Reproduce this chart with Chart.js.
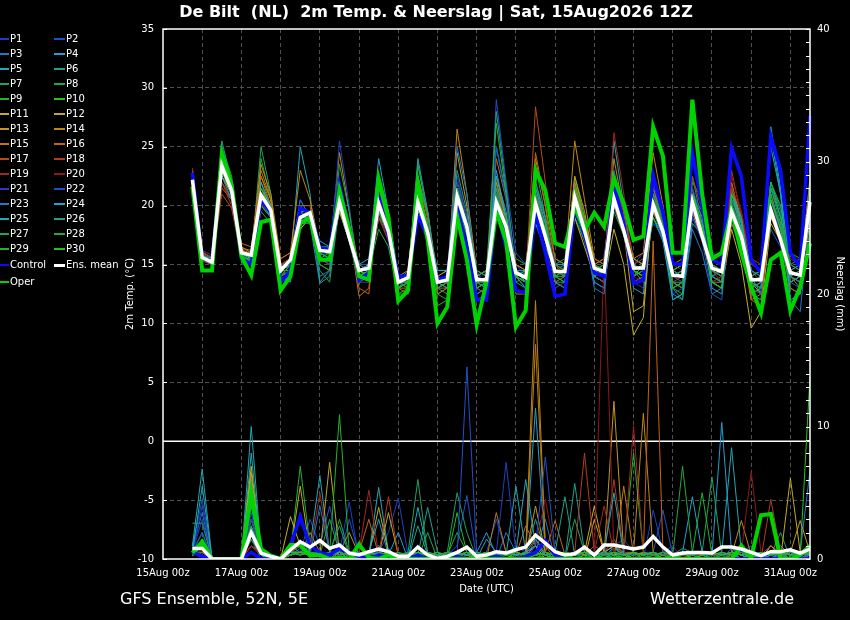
<!DOCTYPE html>
<html><head><meta charset="utf-8">
<script src="https://cdn.jsdelivr.net/npm/chart.js@4.4.1/dist/chart.umd.min.js"></script>
<style>
html,body{margin:0;padding:0;background:#000;}
#wrap{position:relative;width:850px;height:620px;background:#000;overflow:hidden;font-family:"DejaVu Sans",sans-serif;color:#fff;}
#c{position:absolute;left:0;top:0;}
.t{position:absolute;white-space:pre;color:#fff;}
#title{left:0;width:872px;top:2px;text-align:center;font-weight:bold;font-size:16px;line-height:20px;}
#foot1{left:120px;top:589px;font-size:16px;line-height:20px;}
#foot2{left:650px;top:589px;font-size:16px;line-height:20px;}
.lg{position:absolute;font-size:10px;line-height:12px;white-space:pre;color:#fff;}
.ls{position:absolute;}
</style>
</head><body>
<div id="wrap">
<canvas id="c" width="850" height="620"></canvas>
<div class="t" id="title">De Bilt  (NL)  2m Temp. &amp; Neerslag | Sat, 15Aug2026 12Z</div>
<div class="t" id="foot1">GFS Ensemble, 52N, 5E</div>
<div class="t" id="foot2">Wetterzentrale.de</div>
<div id="legend"></div>
</div>
<script>
// ---- categories: 6-hourly steps from 15Aug 00z to 31Aug 12z ----
const days = [15,16,17,18,19,20,21,22,23,24,25,26,27,28,29,30,31];
const hours = ['00','06','12','18'];
const timeLabels = [];
days.forEach(d => hours.forEach(h => timeLabels.push(d + 'Aug ' + h + 'z')));
timeLabels.length = 67;
const leadPad = [null, null, null]; // model output starts 15Aug 18z

// ---- series names & colours ----
const memberNames = ['P1','P2','P3','P4','P5','P6','P7','P8','P9','P10','P11','P12','P13','P14','P15','P16','P17','P18','P19','P20','P21','P22','P23','P24','P25','P26','P27','P28','P29','P30'];
const memberColors = ['#2040c0','#2050c8','#2078c8','#20a0d0','#20a8b4','#20a088','#20a064','#20a844','#20b430','#20c420',
  '#c0b020','#c0a820','#c09820','#c08810','#c07810','#c06418','#b84c18','#b03c20','#a02820','#8c1818',
  '#2040c0','#2050c8','#2078c8','#20a0d0','#20a8b4','#20a088','#20a064','#20a844','#20b430','#20c420'];

// ---- 2m temperature (°C), 15Aug 18z .. 31Aug 12z ----
const tempMean = [22.2, 15.6,15.2,23.4,21.3, 16.0,15.8,20.9,19.6, 14.5,15.4,19.0,19.4, 16.2,16.1,20.3,17.3, 14.5,14.7,20.2,17.8, 13.5,13.9,20.3,17.7, 13.5,13.7,20.8,18.2, 13.7,13.7,20.3,18.2, 14.3,13.9,20.2,17.4, 14.4,14.4,20.7,17.9, 14.7,14.4,20.6,17.9, 14.7,14.7,20.1,17.8, 14.1,14.0,20.3,17.4, 14.7,14.4,19.5,17.4, 13.7,13.7,19.6,17.1, 14.3,14.1,20.3];
const tempControl = [22.8, 15.5,15.3,24.0,21.5, 15.5,15.0,20.5,19.4, 13.5,14.5,19.8,19.4, 16.4,16.2,21.8,18.0, 13.7,14.3,20.8,17.5, 14.0,14.0,19.1,17.4, 13.7,14.0,19.9,16.5, 12.0,12.0,19.8,16.5, 12.8,12.6,19.4,16.0, 12.3,12.5,20.0,17.5, 14.3,14.0,21.8,18.5, 13.4,13.7,22.6,19.4, 15.1,15.0,24.5,19.9, 15.4,15.0,24.9,22.5, 15.4,14.3,25.9,23.0, 16.0,14.8,27.6];
const tempOper = [21.6, 14.5,14.5,24.4,21.8, 15.7,14.1,18.6,18.8, 12.8,14.0,18.5,19.0, 15.4,15.4,21.3,18.0, 14.0,13.7,22.3,19.0, 11.9,12.8,21.9,17.1, 10.0,11.4,19.1,15.4, 9.9,13.5,19.5,17.0, 9.7,11.1,23.0,21.3, 16.8,16.5,19.9,17.9, 19.4,18.2,22.3,20.2, 17.1,17.4,26.7,24.2, 16.0,16.0,29.0,21.0, 15.5,16.0,19.6,16.0, 13.1,10.9,15.4,16.0, 11.1,13.1,16.8];
const tempMembers = [
 [22.5, 16.2,15.8,23.8,21.0, 16.5,16.0,21.5,19.8, 14.8,15.6,20.5,19.0, 16.0,15.5,21.0,17.5, 14.0,14.5,19.5,17.0, 13.0,13.5,21.0,18.0, 14.0,14.5,22.5,19.0, 14.5,13.0,21.0,18.5, 15.0,14.0,19.0,16.5, 13.5,14.0,21.5,18.0, 15.5,15.0,22.0,19.0, 14.0,14.5,20.0,17.0, 13.5,13.0,19.0,17.5, 15.0,14.5,18.5,16.0, 12.5,12.0,21.0,18.0, 15.0,14.5,19.0],
 [22.0, 15.8,15.4,23.0,21.2, 15.8,15.5,20.0,19.2, 14.0,15.0,19.0,19.5, 16.5,16.0,22.0,18.0, 15.0,15.0,21.0,18.5, 14.0,13.5,20.5,18.0, 12.5,13.0,19.5,17.5, 12.0,12.5,29.0,22.0, 16.0,15.0,18.5,16.0, 13.0,13.5,19.5,17.0, 13.5,13.0,20.0,18.5, 15.0,16.0,18.5,17.5, 14.5,15.0,21.5,18.0, 16.0,15.5,20.5,18.5, 14.0,13.5,18.0,16.5, 13.5,14.0,21.0],
 [21.8, 15.5,15.0,23.5,21.5, 15.5,15.2,21.0,20.0, 14.5,15.0,18.5,19.5, 15.8,16.0,19.5,17.0, 14.5,15.0,22.0,18.5, 13.5,14.5,19.0,17.0, 13.0,13.5,21.5,18.5, 13.0,12.5,20.0,18.0, 14.0,13.0,21.0,18.5, 15.0,14.5,20.0,17.0, 15.0,15.5,23.0,19.5, 14.5,14.0,19.0,17.0, 12.5,12.0,18.0,16.0, 12.5,13.0,19.5,17.5, 13.0,12.5,20.5,18.5, 12.0,11.0,19.5],
 [22.3, 15.7,15.5,23.0,20.8, 16.2,15.5,20.5,19.0, 14.2,15.5,19.5,18.5, 16.5,16.5,20.0,17.5, 14.5,14.5,19.5,17.0, 13.0,13.5,21.0,17.5, 13.5,14.0,20.0,18.0, 12.5,13.0,21.5,19.0, 14.5,14.5,21.0,17.5, 15.0,15.0,19.5,17.5, 13.5,13.0,20.5,18.0, 15.5,15.0,21.5,18.5, 14.0,14.5,19.5,17.0, 14.5,14.0,20.0,18.0, 12.5,13.0,26.0,21.0, 15.0,15.5,19.0],
 [22.0, 15.4,15.0,24.5,21.0, 15.6,15.4,20.0,19.5, 14.5,15.0,25.0,21.0, 13.5,14.5,20.0,17.5, 14.0,14.5,20.5,18.0, 13.5,14.0,24.0,19.5, 14.0,13.5,22.0,19.0, 13.5,13.0,25.0,21.0, 14.0,13.0,18.5,16.5, 14.5,15.0,22.0,19.0, 14.0,14.5,25.5,20.0, 14.5,13.5,19.0,17.0, 12.0,12.5,18.5,17.5, 14.0,14.5,21.5,19.0, 14.0,12.5,26.7,21.5, 14.0,13.5,22.5],
 [22.0, 15.5,15.5,25.5,22.0, 15.5,15.0,22.0,19.5, 14.0,14.5,19.0,19.5, 15.5,15.5,19.5,17.0, 14.0,14.5,19.0,17.5, 13.0,14.0,23.5,19.0, 13.5,13.0,21.5,18.5, 12.5,13.0,28.0,21.5, 14.5,13.5,21.0,17.0, 15.0,15.5,21.5,18.0, 14.0,14.5,20.0,17.5, 14.5,14.0,21.0,18.5, 13.5,13.5,20.5,18.0, 13.5,14.0,19.0,17.0, 12.5,12.0,20.0,17.5, 13.5,14.0,20.0],
 [22.1, 15.6,15.2,22.5,21.0, 16.0,15.5,25.0,21.0, 14.5,15.0,19.0,18.5, 14.5,13.5,20.0,17.0, 14.5,14.0,22.0,18.0, 13.5,14.0,23.5,19.5, 13.5,14.0,21.0,18.0, 14.0,13.5,22.0,18.5, 14.5,14.0,23.5,19.0, 13.5,13.5,21.0,19.0, 15.0,14.5,19.5,17.5, 15.5,15.0,20.5,18.0, 13.0,12.0,22.5,18.5, 14.0,13.5,20.0,18.5, 14.0,14.5,21.5,20.0, 14.5,14.0,20.5],
 [21.9, 15.8,15.3,25.0,22.5, 15.7,15.2,19.5,18.5, 14.0,14.5,18.0,19.0, 16.0,16.5,21.5,18.5, 14.5,15.0,21.5,19.0, 14.0,13.5,19.5,17.5, 12.5,12.0,20.0,18.0, 13.0,13.5,20.5,18.5, 15.5,15.0,21.5,19.0, 15.5,15.0,22.0,18.5, 14.5,15.0,22.0,19.5, 14.0,14.5,19.5,17.5, 14.5,14.0,21.0,19.5, 15.0,14.5,20.5,19.0, 15.5,15.0,22.0,20.0, 16.0,15.5,21.0],
 [22.4, 15.5,15.0,23.0,21.5, 15.2,14.5,24.0,20.5, 13.5,14.0,20.0,19.0, 16.0,15.5,20.5,17.5, 15.0,14.5,18.0,16.5, 12.5,13.0,19.5,17.0, 13.0,13.5,20.0,18.5, 14.0,14.5,27.0,21.0, 14.5,13.5,20.0,17.5, 14.5,14.0,19.0,17.0, 14.0,13.5,20.5,18.5, 15.0,14.5,20.0,18.0, 13.0,12.5,22.0,20.5, 15.5,15.0,21.5,18.5, 14.0,14.5,20.0,17.0, 13.0,12.5,18.0],
 [22.0, 15.6,15.2,24.0,21.0, 15.9,15.5,20.5,19.5, 14.0,15.0,19.5,19.0, 15.5,15.0,20.0,17.0, 13.5,14.0,19.0,17.5, 13.5,13.0,21.5,18.5, 14.5,14.5,21.0,18.0, 13.5,13.0,21.0,18.0, 14.0,14.5,20.0,17.5, 14.0,14.0,22.5,19.0, 15.0,14.0,21.0,18.0, 14.0,15.0,19.0,17.5, 13.0,13.5,20.5,18.0, 15.5,15.0,19.5,17.0, 12.5,13.0,19.0,17.5, 13.5,14.0,21.0],
 [22.2, 15.8,15.4,22.0,20.5, 16.0,15.5,21.5,20.0, 15.0,15.5,18.0,19.0, 16.0,15.5,19.5,17.0, 14.5,14.0,20.5,17.5, 13.5,13.5,19.0,17.5, 14.0,14.5,20.0,18.0, 14.5,14.0,19.5,17.5, 14.0,13.5,20.5,18.0, 13.5,13.0,19.0,16.5, 14.0,13.5,18.0,15.0, 9.0,10.5,21.0,18.5, 14.5,14.0,20.5,17.5, 13.5,13.0,18.0,15.0, 9.6,11.0,18.5,17.0, 14.0,13.5,17.0],
 [21.8, 16.0,15.6,22.5,21.0, 16.2,15.8,21.0,19.0, 15.0,15.5,19.5,19.5, 16.5,16.0,20.5,17.5, 14.5,15.0,20.0,17.5, 13.5,14.0,20.5,18.0, 13.5,14.0,21.0,18.5, 14.0,14.5,20.5,19.0, 15.0,14.5,20.0,17.0, 15.0,14.5,21.5,18.5, 15.5,15.0,20.5,18.0, 11.0,11.5,20.0,17.5, 14.5,15.0,19.5,17.0, 14.0,13.5,20.0,17.5, 13.5,12.5,19.0,17.5, 14.5,14.0,19.5],
 [22.6, 15.5,15.2,22.8,21.5, 16.3,15.9,22.5,20.5, 14.7,15.5,20.0,19.0, 16.2,16.0,21.5,18.0, 14.0,14.5,21.5,18.5, 14.0,14.0,20.0,17.5, 13.0,13.5,24.5,20.0, 14.0,13.5,20.5,18.0, 14.5,14.0,21.0,18.5, 14.5,14.0,22.5,19.5, 15.0,15.5,21.5,18.5, 15.5,15.0,19.5,17.5, 14.0,14.5,20.0,17.5, 14.5,14.0,19.0,17.0, 13.0,13.5,19.5,17.5, 14.5,14.0,18.5],
 [23.0, 15.6,15.3,23.2,21.8, 16.5,16.0,23.5,21.0, 15.5,16.0,23.0,20.5, 16.5,16.0,24.5,19.5, 14.5,15.0,20.0,17.5, 14.0,14.5,22.5,19.0, 14.0,13.5,26.5,21.0, 14.5,14.0,22.0,19.0, 15.0,14.5,24.0,20.0, 15.5,15.0,25.5,20.5, 15.5,15.0,24.0,19.5, 15.5,16.0,24.5,20.0, 15.0,15.5,21.5,18.0, 15.5,15.0,22.0,18.5, 13.5,14.0,21.0,18.0, 14.5,15.0,22.0],
 [22.0, 15.7,15.5,22.5,21.2, 16.4,16.2,23.0,20.5, 15.0,15.5,19.5,19.5, 15.5,15.0,21.0,18.0, 12.3,13.0,21.5,18.0, 13.0,13.0,22.5,19.0, 12.5,13.0,20.5,18.5, 13.0,13.5,22.5,19.0, 12.5,12.5,21.0,18.5, 14.5,14.5,22.0,18.5, 14.0,13.5,20.0,17.5, 13.5,14.0,21.0,18.0, 13.0,13.5,19.5,17.5, 13.5,13.0,18.5,16.5, 12.0,12.5,20.5,18.5, 14.0,13.0,21.5],
 [22.4, 16.0,15.5,21.5,20.5, 16.8,16.5,22.5,20.0, 15.5,16.0,20.0,20.0, 15.0,14.5,20.5,17.5, 13.0,12.5,21.0,18.5, 13.0,12.5,20.5,18.0, 13.0,13.0,20.5,18.0, 14.0,14.5,24.0,20.5, 14.0,13.5,24.5,20.0, 13.5,14.0,20.5,18.5, 15.0,14.5,20.5,18.5, 14.5,14.0,21.5,19.0, 13.5,13.0,21.0,18.0, 13.5,13.5,21.5,18.5, 12.0,11.5,20.0,17.5, 13.0,12.5,21.0],
 [22.3, 15.4,15.0,21.0,19.8, 15.5,15.0,20.0,19.0, 14.5,14.0,19.0,19.0, 16.0,15.5,21.0,18.0, 14.0,14.5,21.0,18.0, 13.5,13.5,22.0,19.0, 13.0,13.5,20.5,18.0, 13.5,13.0,19.0,17.5, 14.0,13.5,28.4,22.0, 15.0,14.0,20.5,17.0, 15.5,15.0,21.0,18.0, 14.5,14.0,19.5,17.5, 13.5,13.0,20.0,18.5, 14.0,14.5,20.5,18.0, 13.5,13.0,19.0,17.0, 14.0,14.5,20.0],
 [21.6, 15.3,15.0,22.0,20.0, 15.8,15.4,21.5,19.5, 14.0,14.5,20.0,19.0, 15.5,15.0,20.5,17.5, 13.5,14.0,19.0,17.0, 14.0,13.5,20.0,18.0, 13.5,14.0,22.0,19.0, 13.0,12.5,21.5,18.5, 14.5,14.0,21.0,18.5, 14.0,14.5,20.5,18.0, 14.5,14.0,22.0,19.5, 15.0,15.5,21.0,18.5, 13.5,14.0,22.5,19.5, 15.0,14.5,23.0,19.0, 14.5,13.5,20.5,18.0, 14.5,14.0,20.5],
 [23.2, 16.1,15.6,22.0,20.5, 16.5,15.5,20.5,19.0, 14.5,15.0,19.0,19.5, 16.0,15.5,20.0,17.0, 14.5,14.5,20.5,17.5, 13.5,13.0,21.0,18.5, 13.5,14.0,20.0,17.5, 14.0,14.5,20.5,18.0, 14.5,14.0,20.0,17.5, 14.5,14.0,21.0,18.0, 15.0,14.5,26.2,21.0, 14.5,14.0,21.0,18.5, 14.0,13.5,19.5,17.5, 14.5,13.5,21.5,19.5, 15.0,14.5,21.0,18.0, 15.5,15.0,20.5],
 [22.0, 15.9,15.5,23.0,21.0, 15.4,15.0,20.0,19.5, 15.0,15.5,18.5,19.0, 15.5,15.5,20.5,17.5, 14.5,14.0,19.5,17.0, 13.5,14.0,20.5,18.5, 13.5,13.5,20.0,18.0, 14.5,14.0,19.0,18.0, 14.0,14.5,21.5,19.0, 15.0,14.5,20.0,18.5, 14.5,14.0,21.0,18.0, 14.0,13.5,22.0,19.5, 15.0,14.5,20.0,18.0, 13.5,14.0,22.5,19.5, 15.5,15.0,20.5,18.5, 15.0,14.5,19.5],
 [22.1, 15.5,15.2,23.5,21.0, 15.8,15.4,20.5,19.5, 14.0,14.5,19.5,19.0, 15.5,15.0,25.5,20.0, 13.5,13.5,19.5,17.5, 13.5,14.0,20.0,17.5, 13.0,13.5,22.0,19.0, 13.5,13.0,20.5,17.5, 14.0,14.5,20.5,18.5, 14.5,14.0,21.0,18.0, 14.5,15.0,21.5,18.5, 13.5,13.0,22.0,19.0, 12.5,13.0,21.5,19.0, 14.0,13.5,20.5,18.5, 13.0,12.5,22.0,19.0, 15.0,14.5,20.0],
 [22.3, 15.8,15.5,23.5,21.0, 16.0,15.7,21.0,19.5, 14.5,15.0,19.5,19.5, 16.0,15.5,20.0,17.0, 14.0,14.0,20.5,18.0, 13.5,14.0,21.0,18.5, 13.5,14.0,21.5,18.5, 12.0,12.5,25.0,20.5, 14.5,14.0,19.5,17.0, 14.0,14.5,20.5,18.5, 14.0,13.5,20.0,18.0, 14.5,15.0,22.0,19.0, 14.0,13.5,19.0,17.0, 12.5,12.0,20.5,18.0, 14.5,14.0,20.5,17.5, 13.5,13.0,20.5],
 [22.0, 15.6,15.4,23.0,21.5, 16.1,15.8,21.0,19.0, 14.5,15.0,20.5,19.0, 14.0,14.5,20.0,17.5, 14.5,15.0,19.5,17.5, 13.5,13.5,21.5,18.0, 13.5,14.0,25.0,21.0, 13.5,14.0,20.5,18.5, 14.5,14.0,21.5,19.0, 13.5,13.0,20.0,18.0, 13.0,12.5,20.5,18.5, 15.0,14.5,20.0,17.0, 14.5,14.0,19.5,18.0, 14.0,14.5,20.5,18.5, 13.5,13.0,20.5,18.5, 14.0,13.5,19.5],
 [22.5, 15.7,15.3,22.5,20.5, 16.0,15.5,21.0,19.5, 14.5,15.0,19.0,19.0, 17.0,16.5,20.5,18.0, 15.0,15.5,24.0,19.5, 14.0,14.0,20.5,18.0, 14.5,14.5,21.0,18.5, 14.0,14.5,23.0,19.0, 14.0,13.5,21.5,18.5, 14.5,14.0,21.0,18.0, 14.0,14.5,21.5,18.5, 13.0,12.5,20.0,18.0, 14.0,14.5,21.0,18.0, 14.0,13.5,21.0,18.5, 14.5,14.0,21.5,19.0, 14.5,15.0,21.0],
 [22.2, 15.4,15.2,23.0,21.0, 15.6,15.0,22.0,20.0, 14.0,13.5,19.5,19.5, 16.0,15.5,21.0,18.0, 14.0,14.5,20.0,17.5, 13.5,13.5,20.5,18.0, 13.5,13.0,20.0,18.0, 13.0,13.5,22.5,19.5, 14.0,13.5,22.0,19.0, 14.0,14.5,20.5,18.5, 14.5,14.0,21.0,18.5, 14.5,15.0,20.5,18.5, 12.0,12.5,20.0,18.0, 13.0,12.5,21.0,19.0, 13.0,13.5,25.0,21.0, 12.0,12.5,21.5],
 [22.0, 15.8,15.5,23.5,21.0, 15.8,15.2,20.5,19.0, 14.5,15.0,19.0,18.5, 13.4,14.0,20.5,17.5, 14.5,14.5,20.0,17.5, 13.5,14.0,22.0,19.5, 13.5,14.0,23.0,19.5, 14.5,14.0,21.5,18.0, 13.5,13.0,20.0,17.5, 14.0,13.5,20.0,18.0, 14.5,15.0,21.0,18.0, 14.0,14.5,20.0,17.5, 14.5,15.0,21.0,19.0, 13.5,13.0,20.0,18.0, 13.5,13.0,22.0,19.5, 13.5,14.0,20.5],
 [21.9, 15.5,15.0,24.0,21.5, 15.5,15.0,20.5,19.0, 13.5,14.0,19.5,18.5, 16.0,15.5,20.0,17.0, 14.5,14.0,21.0,18.5, 13.0,13.5,20.0,17.5, 13.0,12.5,20.0,18.0, 13.5,13.0,21.0,18.0, 14.5,14.0,22.0,19.0, 14.5,14.0,20.0,17.5, 14.0,14.5,20.5,17.5, 14.5,14.0,21.0,18.5, 14.0,14.5,20.5,18.0, 14.0,13.5,19.5,17.5, 13.5,13.0,21.5,18.5, 14.0,14.5,20.5],
 [22.2, 15.7,15.5,23.5,21.0, 16.0,15.5,20.0,19.0, 14.0,14.5,18.5,18.5, 15.0,14.5,23.5,19.5, 14.0,14.5,20.0,17.5, 13.5,13.0,21.5,18.0, 13.5,13.5,20.5,18.5, 14.0,14.5,20.0,18.5, 13.5,14.0,21.0,18.0, 15.0,14.5,20.5,17.5, 14.0,14.5,21.5,19.0, 14.5,15.0,21.0,19.0, 13.5,13.0,20.5,18.0, 14.5,14.0,19.5,17.5, 13.5,14.0,21.0,18.0, 14.5,14.0,20.0],
 [22.0, 15.6,15.0,23.5,21.5, 15.5,15.0,21.0,19.5, 14.0,14.5,19.0,19.0, 15.5,16.0,20.5,17.5, 14.0,14.5,19.5,17.5, 12.5,12.5,21.5,18.5, 11.5,12.0,20.0,17.5, 13.0,13.5,20.5,18.0, 14.0,13.5,20.0,18.5, 14.0,14.5,21.5,18.0, 14.5,15.0,20.5,18.5, 14.5,14.0,20.5,18.5, 13.0,13.5,20.0,17.5, 15.0,14.5,20.0,18.0, 13.5,14.0,22.0,19.0, 15.0,14.5,20.5],
 [22.1, 15.7,15.3,23.0,21.0, 15.7,15.4,21.5,19.5, 14.5,14.5,19.5,19.5, 16.5,16.0,21.0,18.0, 14.5,14.0,20.0,18.0, 13.0,13.5,21.0,18.0, 13.0,13.5,21.5,18.5, 13.5,13.5,20.5,19.0, 14.0,14.5,20.5,18.0, 14.0,13.5,21.0,18.5, 15.0,14.5,20.5,18.0, 14.5,14.0,22.5,19.5, 14.5,15.0,21.0,18.5, 13.5,13.0,21.0,18.0, 14.0,14.5,20.5,18.0, 14.5,14.0,20.5]
];

// ---- precipitation (mm per 6h), 15Aug 18z .. 31Aug 12z ----
const precMean = [0.8, 0.8,0,0,0, 0,2,0.45,0.2, 0,0.7,1.3,0.9, 1.4,0.8,1.05,0.45, 0.3,0.55,0.75,0.55, 0.2,0.2,0.9,0.3, 0.05,0.2,0.5,0.9, 0.2,0.3,0.55,0.45, 0.7,0.9,1.8,1.2, 0.55,0.3,0.4,0.9, 0.3,1.05,1.05,0.9, 0.75,0.9,1.7,0.9, 0.3,0.45,0.5,0.5, 0.45,0.9,0.9,0.75, 0.5,0.25,0.55,0.55, 0.7,0.45,0.75];
const precControl = [0.5, 0.2,0,0,0, 0,0.5,0,0, 0,1,3.2,1, 0.5,0.3,0.8,0.5, 0.2,0,0.3,0.2, 0,0,0.3,0, 0,0,0.2,0, 0,0,0.2,0, 0,0.2,0.5,1.4, 0.3,0,0,0, 0,0,0,0, 0,0,0,0, 0,0,0,0, 0,0,0,0, 0,0,0,0, 0,0,0];
const precOper = [0.45, 1.3,0,0,0, 0,5,0.75,0.25, 0,1.05,1.05,0.25, 0.3,0,0.1,0, 1.1,0.1,0,0.3, 0,0,0,0, 0,0,0,0, 0,0,0,0, 0,0,0,0, 0,0,0,0, 0,0,0,0, 0,0,0,0, 0,0,0,0, 0,0,0,1, 0.1,3.3,3.4,0, 0,0.3,1];
const precMembers = [
 [0.5, 3,0,0,0, 0,3,0.5,0, 0,0.3,1.5,0.5, 0.3,0,0.5,4.3, 0,0.5,0.5,2, 4.6,0.3,0,0, 0,0,0.5,1, 0,0,0.5,0.3, 1,0.5,0.5,0, 0,0.5,0,0.3, 0,0.5,1,1.5, 0.5,0,3.7,0.5, 1,0,0,0.3, 0,0,0.5,1, 0,0.3,0.5,0, 0,0.5,1],
 [1, 4.5,0,0,0, 0,3.5,0.3,0, 0,0.5,0.5,3, 1,4,0.5,0.3, 0,0.3,1,0.5, 0,0,0.5,0.3, 0,0.3,1,4.8, 0,0.5,3,0.5, 0.3,0,1,0.5, 0,0,0.5,0.3, 0.5,0,0.3,0, 0,0.5,0.5,3.7, 0.3,0,0.5,0, 0.5,0,0,0.5, 1,0,0.3,0, 0,0.3,0.5],
 [0.8, 3.5,0,0,0, 0,1.5,0,0.3, 0,0.3,0.8,0.5, 0.5,0.3,1,0, 0.3,0,0.5,0.8, 0,0.5,0.3,0, 0,0,0.3,0.5, 0,0.5,0,2, 0.5,0.3,0.5,3, 0,0.3,0.5,0, 0.5,0,0.8,0.3, 0,0,0.5,0, 0,0.5,0.3,0, 0,0,0.8,0.5, 0.3,0,0.5,0.3, 0,0.5,6.7],
 [0.3, 1,0,0,0, 0,1,0.5,0, 0,0.5,1,0.3, 0.5,0,0.3,0.5, 0,0.3,1,0.3, 2,0,0.5,0.3, 0,0.5,0,0.3, 0,1.5,0.5,0, 0.3,0.5,11.4,0.5, 0,0.3,0.5,0.3, 0,0.5,1,0.5, 0.3,0,0.5,0, 0,0.5,4.7,0.5, 0,0.5,0.3,0, 0.5,0,1,0.3, 0,0.5,0.3],
 [1, 6.8,0,0,0, 0,8,0.5,0, 0,0.5,0.5,1, 6.3,0.5,0.3,0, 0,0.3,5.4,0.5, 0,0.3,0.5,0, 0,0.5,0.3,0.5, 0.3,0,0.5,0.3, 0.5,6,1,0.3, 0,0.5,0.3,0.5, 0.3,0,1,0, 0,0.5,0.3,0, 0.5,0,0.5,0.3, 0,0.5,8.4,0.5, 0,0.3,0.5,0.5, 0.3,0,0.5],
 [0.5, 2,0,0,0, 0,6,0.3,0, 0,1,0.5,0.5, 0.3,0.5,0.5,0.3, 0.5,0,0.3,0.5, 0.3,0,2.5,0.3, 0,0.5,0.5,0, 0.5,0,0.3,0.5, 0,0.5,3,0.5, 0.3,0,5.7,0.5, 0,0.5,0.3,0, 0.5,0,0,0.5, 0.3,0.8,0.5,0, 0.5,0.3,0,0.5, 0.5,0,0.3,1, 0.3,0,0.5],
 [2.7, 2.7,0,0,0, 0,1.5,0.5,0, 0,0.5,1,0.5, 0.3,0,0.5,0.3, 0.5,0.3,0,0.5, 0,0.5,0.3,0.3, 0,0.5,5,2, 0,0.3,0.5,0, 0.5,0.3,0.5,0, 0.3,0.5,0.3,0.5, 0,0.3,0.5,0.3, 0.5,0,0.5,0, 0.3,0.5,0,0.5, 0,0.3,0.5,0.3, 0.5,0,0.3,2, 0,0.5,0.3],
 [0.3, 1.5,0,0,0, 0,2,0.3,0, 0,0.5,0.5,0.3, 0.5,0.3,3,0.5, 0,0.5,0.3,0, 0.3,0.5,0,2, 0,0.3,0.5,0.3, 0.5,0,0.5,0.3, 0,0.5,0.5,0, 0.3,0,0.5,0.3, 0.5,0.3,0,0.5, 0,0.5,0.3,0, 0.3,7,0.5,0.3, 0,0.5,0.3,0.5, 0.3,0,0.5,0, 0.5,0.3,0.5],
 [0.5, 1,0,0,0, 0,4,0.5,0.3, 0,0.5,7,1, 0.5,0,0.5,0.3, 0,0.3,0.5,0, 0.5,0,0.3,0.5, 0,0.3,0.5,0, 0.3,0.5,0,0.3, 0.5,0,0.3,0.5, 0,0.3,0.5,0, 0.5,0,0.3,0.5, 8,0.5,0.3,0, 0.5,0,0.3,0.5, 0,0.5,0.3,0, 0.3,0.5,0,0.3, 0.5,0,0.5],
 [0.3, 1,0,0,0, 0,2,0.5,0, 0,0.3,0.5,0.5, 0.3,0.5,0,0.3, 0.5,0,0.3,0.5, 0,0.3,0.5,0, 0.3,0,3.5,0.5, 0,0.3,0.5,0.3, 0.5,0,0.3,0, 0.3,0.5,0,0.3, 0,0.3,0.5,0, 0.5,0,0.3,0.5, 0,0.5,0.3,0, 0.3,0,0.5,0.3, 0,0.5,0,0.3, 0.5,0.3,13.8],
 [0.3, 0.5,0,0,0, 0,7,0.3,0, 0,3.2,1,0.5, 0.3,0.5,0.5,0, 0.5,0.3,3.9,0.5, 0,0.3,0.5,0.3, 0,0.5,0.3,0, 0.3,0,0.5,0.3, 0.5,0.3,1,0, 0.3,0,0.5,0.5, 4,0.5,1,0.3, 0,0.5,0.3,0, 0.3,0,0.5,0.3, 0.5,0,0.3,0.5, 0.3,0,1,0.3, 0.5,0,0.3],
 [0.5, 0.5,0,0,0, 0,6.5,0.3,0, 0,0.5,5.5,0.5, 0.3,7.3,0.5,0.3, 0,0.5,0.3,3.5, 0.3,0,0.5,0.3, 0,0.3,0.5,0, 0.5,0,0.3,0.5, 0.3,0.5,1,0.3, 0,0.5,0.3,0, 3,0.5,0.3,0.5, 0,0.5,0,0.3, 0.5,0,0.3,0.5, 0,0.5,0.3,0.5, 0,0.3,0.5,0, 6.1,0.5,0.3],
 [0.3, 1,0,0,0, 0,3,0.5,0, 0,0.5,0.5,0.3, 0.5,0,0.5,2, 0.3,0,0.5,0.3, 0,0.5,0.3,0, 0.3,0,0.5,0.3, 0.5,0.3,0,0.5, 0,0.3,4,0.5, 0.3,0,0.5,0.3, 0.5,0.3,11.9,0.5, 0,0.3,0.5,0, 0.5,0.3,0,0.5, 0.3,0,0.5,0.3, 0,0.5,0.3,0, 0.5,2.9,0.5],
 [0.5, 0.5,0,0,0, 0,2,0.3,0, 0,0.3,0.5,0.5, 0.3,0.5,0,0.3, 0.5,0,0.3,0.5, 0,0.3,0.5,0, 0.3,0,0.5,0.3, 0,0.5,0.3,0.5, 0.3,0.5,19.5,1, 0,0.5,0.3,0.5, 0,0.3,0.5,0.3, 0.5,11,0.5,0, 0.3,0.5,0,0.3, 0.5,0,0.3,2.9, 0.3,0.5,0,0.3, 0.5,0,0.3],
 [0.3, 0.5,0,0,0, 0,1.5,0.5,0, 0,0.5,0.3,2, 0.5,0.3,0.5,0, 0.3,0.5,0,0.3, 0.5,0,0.3,0.5, 0,0.3,0.5,0.3, 0.3,0,3.5,0.5, 0.5,0.3,16.2,1, 0.5,0,0.3,0.5, 0.3,0.5,0,5.5, 0.3,0.5,0.3,0, 0.5,0,0.3,0.5, 0,0.3,0.5,0, 0.3,0.5,0,0.3, 0.5,0.3,0],
 [0.5, 0.5,0,0,0, 0,1,0.3,0, 0,0.3,0.5,0.5, 0.3,0,0.5,0.3, 0.5,3,0.3,0.5, 0,0.3,0.5,0.3, 0.5,0,0.3,0.5, 0,0.3,0.5,0, 0.3,2.5,1,0.5, 2.9,0.3,0.5,0, 0.3,0.5,0,0.5, 0.5,0.3,24,0.5, 0,0.3,0.5,0.3, 0.5,0,0.3,0.5, 0.3,0,0.5,0.3, 0,0.5,0.3],
 [0.3, 0.5,0,0,0, 0,1.5,0.3,0, 0,0.5,1,0.3, 0.5,0.3,0.5,0, 0.3,0.5,0.3,0.5, 0,0.5,0.3,0, 0.3,0.5,0,0.3, 0.5,0.3,0.5,0, 0.3,0,1.5,0.5, 0.3,0.5,0,0.3, 1,0.5,1.5,0.3, 0.5,0,0.5,0.3, 0,0.5,0.3,0.5, 0.3,0,0.5,0, 0.5,0.3,1,0.5, 0.3,0.5,0.8],
 [0.5, 0.5,0,0,0, 0,1,0.5,0, 0,0.3,0.5,0.5, 0.3,0.5,0,0.3, 0.5,0,0.3,4.7, 0.3,0.5,0,0.3, 0.5,0,0.3,0.5, 0,0.3,0.5,0.3, 0.5,0,0.5,0.3, 0.5,0.3,0.5,8, 0.5,0.3,6,0.5, 0.3,0,0.5,0.3, 0.5,0.3,0,0.5, 0,0.5,0.3,0.5, 0.3,0,4.5,0.5, 0.3,0,0.5],
 [0.5, 0.5,0,0,0, 0,1,0.3,0, 0,0.5,0.3,0.5, 5,0.5,0.3,0, 0.5,5.2,0.3,0.5, 0,0.3,0.5,0.3, 0.5,0,0.3,0.5, 0.3,0.5,0,0.3, 0.5,0.3,0.5,0, 0.3,0.5,0.3,0.5, 0.5,4,0.5,0.3, 10,0.5,0.3,0, 0.5,0.3,0,0.5, 0.3,0.5,0.3,0, 0.5,0.3,0.5,0.3, 0,0.5,0.3],
 [0.3, 0.5,0,0,0, 0,1,0.3,0, 0,0.3,0.5,0.3, 0.5,0,0.3,0.5, 0.3,0.5,0,0.3, 0.5,0.3,0,0.5, 0,0.3,0.5,0.3, 0.5,0,0.3,0.5, 0.3,0.5,1,4.5, 0.5,0,0.3,0.5, 0.3,23,0.5,0.3, 0.5,0,0.3,0.5, 0,0.3,0.5,0, 0.3,0.5,0.3,0.5, 6.6,0.5,0.3,0.5, 0.3,0,0.5],
 [0.5, 4,0,0,0, 0,3,0.5,0, 0,0.5,0.3,0.5, 0.3,0.5,0.5,0.3, 0,0.3,0.5,0.3, 0.5,0,0.3,0.5, 0.3,0.5,0,0.3, 0.5,0.3,0.5,7.3, 0.5,0,0.5,0.3, 0,0.5,0.3,0, 0.5,0.3,0,0.5, 0.3,0,0.5,0.3, 0,0.5,0.3,0.5, 0.3,0,0.5,0.3, 0,0.5,0,0.3, 0.5,0.3,0.5],
 [0.5, 2,0,0,0, 0,1.5,0.3,0, 0,0.5,0.3,0.5, 0.3,0.5,0,3, 0.3,0,0.5,0.3, 0,0.5,0.3,0, 0.3,0.5,0.3,14.5, 0.5,0.3,0,0.5, 0.3,0.5,1,7.7, 0.5,0.3,0,0.5, 0.3,0,0.5,0.3, 0.5,0.3,0,0.5, 0.3,0.5,0.3,0, 0.5,0.3,0,0.5, 0.3,0.5,0.3,0, 0.5,0,0.3],
 [0.3, 1.5,0,0,0, 0,5.5,0.3,0, 0,0.5,0.5,0.3, 4,0.5,0.3,0.5, 0,0.3,0.5,0.3, 0.5,0,0.3,0.5, 0.3,0.5,0,0.3, 0.5,0.3,0.5,0, 0.3,0.5,1,0.3, 0.5,0,0.3,0.5, 0.3,0.5,0,0.3, 0.5,0.3,0.5,0, 0.3,0.5,0.3,0.5, 0,0.3,0.5,0.3, 0.5,0.3,0,0.5, 0.3,0.5,0.3],
 [0.3, 1,0,0,0, 0,2.5,0.5,0, 0,0.5,3.5,0.3, 0.5,0.3,0.5,0, 0.3,0.5,3,0.3, 0,0.5,0.3,0.5, 0.3,0,0.5,0.3, 0.5,2,0.3,0.5, 0.3,0.5,1,0.3, 0,0.5,0.3,0.5, 0.3,0.5,0.3,0, 0.5,0.3,0.5,0.3, 0,0.5,0.3,0.5, 0.3,10.3,0.5,0.3, 0.5,0,0.3,0.5, 0.3,0.5,0.3],
 [0.5, 5.5,0,0,0, 0,10,0.5,0, 0,0.5,0.5,0.3, 0.5,0.3,0.5,0.3, 0,0.5,0.3,0.5, 0.3,0,3.9,0.5, 0.3,0,0.5,0.3, 0.5,0.3,0.5,0.3, 5.5,0.5,1.5,0.3, 0.5,0,0.3,0.5, 0.3,0.5,5,0.3, 0.5,0.3,0.5,0, 0.3,0.5,0.3,0.5, 0.3,0.5,0.3,0, 0.5,0.3,0.5,0.3, 0,0.5,0.3],
 [0.3, 1,0,0,0, 0,4,0.3,0, 0,0.5,0.3,0.5, 0.3,0.5,0.3,0.5, 0.5,0,0.5,0.3, 0,0.5,0.3,3.9, 0.5,0.3,0.5,0, 0.3,0.5,0.3,0.5, 0.3,0,0.5,0.3, 0.5,4.7,0.3,0.5, 0.3,0,0.5,0.3, 0.5,0.3,0,0.5, 0.3,0.5,0.3,0, 0.5,0.3,0.5,0.3, 0,0.5,0.3,0.5, 0.3,0,0.5],
 [0.5, 1,0,0,0, 0,2,0.5,0, 0,0.3,0.5,0.5, 0.3,0.5,2.5,0.3, 0.5,0,0.3,0.5, 0.3,0.5,6,0.3, 0.5,0,0.3,0.5, 0.3,0.5,0,0.3, 0.5,0.3,0.5,0.3, 0.5,0,3,0.5, 0.3,0.5,0.3,0, 0.5,0.3,0.5,0.3, 0,0.5,0.3,0.5, 6.2,0.3,0.5,0, 0.3,0.5,0.3,0.5, 0,0.3,0.5],
 [0.3, 0.5,0,0,0, 0,1.5,0.3,0, 0,0.5,0.3,0.5, 0.3,3,0.5,0.3, 0,0.5,0.3,0.5, 0.3,0,0.5,0.3, 0.5,0.3,2,0.5, 0.3,0,0.5,0.3, 0.5,0.3,0.5,0, 0.3,0.5,0.3,0.5, 0,0.3,0.5,0.3, 0.5,0,0.3,0.5, 0.3,0.5,0,0.3, 0.5,0.3,0.5,0, 0.3,0.5,0.3,0.5, 0,0.3,0.5],
 [0.5, 1,0,0,0, 0,2.5,0.5,0, 0,0.3,0.5,0.5, 0.3,0.5,10.9,0.5, 0.3,0,0.5,0.3, 0.5,0.3,0,0.5, 0.3,0.5,0.3,0, 0.5,0.3,0.5,0.3, 0,0.5,0.3,0.5, 0.3,0.5,0,0.3, 0.5,0.3,0.5,0, 0.3,0.5,0.3,0.5, 0,0.3,0.5,5, 0.3,0.5,0.3,0.5, 0,0.3,0.5,0.3, 0.5,0.3,0.5],
 [0.3, 1,0,0,0, 0,2,0.3,0, 0,0.5,0.5,0.3, 0.5,0.3,0.5,0, 0.3,0.5,0.3,0.5, 0,0.3,0.5,0.3, 0.5,0,0.3,0.5, 0.3,0.5,0.3,0, 0.5,0.3,0.5,0.3, 0,0.5,0.3,0.5, 0.3,0,0.5,0.3, 0.5,0.3,0.5,0, 0.3,0.5,0,0.3, 0.5,0.3,0.5,0.3, 0,0.5,0.3,0.5, 0.3,0.5,1]
];

// ---- axis tick labels ----
const tempTicks = [-10,-5,0,5,10,15,20,25,30,35];
const precTicks = [0,10,20,30,40];

const FONT = '"DejaVu Sans", sans-serif';
const GRID = '#505050';

// ---- datasets ----
const datasets = [];
function addSet(label, data, color, width, axis, order) {
  datasets.push({label, data: leadPad.concat(data), borderColor: color, backgroundColor: color,
    borderWidth: width, yAxisID: axis, order, pointRadius: 0, fill: false, tension: 0});
}
memberNames.forEach((n, k) => {
  addSet(n, tempMembers[k], memberColors[k], 1, 'y', 100 - k);
  addSet(n, precMembers[k], memberColors[k], 1, 'y1', 100 - k);
});
addSet('Control', tempControl, '#0a0aff', 3.5, 'y', 3);
addSet('Control', precControl, '#0a0aff', 3.5, 'y1', 3);
addSet('Oper', tempOper, '#00d400', 4, 'y', 2);
addSet('Oper', precOper, '#00d400', 4, 'y1', 2);
addSet('Ens. mean', tempMean, '#ffffff', 3.5, 'y', 1);
addSet('Ens. mean', precMean, '#ffffff', 3.5, 'y1', 1);

// ---- frame, zero line, inward ticks ----
const framePlugin = {
  id: 'frame',
  beforeDatasetsDraw(chart) {
    const {ctx, chartArea: a, scales: {y}} = chart;
    const y0 = y.getPixelForValue(0);
    ctx.save();
    ctx.strokeStyle = '#ffffff'; ctx.lineWidth = 1.5;
    ctx.beginPath(); ctx.moveTo(a.left, y0); ctx.lineTo(a.right, y0); ctx.stroke();
    ctx.restore();
  },
  afterDraw(chart) {
    const {ctx, chartArea: a, scales: {y, y1}} = chart;
    ctx.save();
    ctx.strokeStyle = '#ffffff'; ctx.lineWidth = 1.5;
    ctx.strokeRect(a.left, a.top, a.right - a.left, a.bottom - a.top);
    ctx.lineWidth = 1;
    ctx.beginPath();
    y.ticks.forEach((t, i) => { const p = Math.round(y.getPixelForTick(i)) + 0.5; ctx.moveTo(a.left, p); ctx.lineTo(a.left + 4, p); });
    y1.ticks.forEach((t, i) => { const p = Math.round(y1.getPixelForTick(i)) + 0.5; ctx.moveTo(a.right - 4, p); ctx.lineTo(a.right, p); });
    ctx.stroke();
    ctx.restore();
  }
};

new Chart(document.getElementById('c'), {
  type: 'line',
  data: {labels: timeLabels, datasets},
  options: {
    responsive: false, animation: false, devicePixelRatio: 1,
    layout: {padding: {left: 120, right: 0, top: 29, bottom: 21}},
    plugins: {legend: {display: false}, title: {display: false}, tooltip: {enabled: false}},
    elements: {point: {radius: 0}, line: {tension: 0}},
    scales: {
      x: {
        type: 'category', offset: false,
        ticks: {autoSkip: false, maxRotation: 0, minRotation: 0, color: '#fff', font: {size: 10, family: FONT}, padding: 8,
          callback: (v, i) => (i % 8 === 0 ? timeLabels[i] : '')},
        grid: {color: c => (c.index % 4 === 0 && c.index > 0 && c.index < 66) ? GRID : 'rgba(0,0,0,0)', drawTicks: false, lineWidth: 1},
        border: {display: false, dash: [4, 3]},
        title: {display: true, text: 'Date (UTC)', color: '#fff', font: {size: 10, family: FONT}, padding: {top: 0, bottom: 4}},
        afterFit: s => { s.height = 40; }
      },
      y: {
        position: 'left', min: -10, max: 35,
        afterBuildTicks: s => { s.ticks = tempTicks.map(v => ({value: v})); },
        ticks: {color: '#fff', font: {size: 10, family: FONT}, padding: 9},
        grid: {color: c => (c.tick && (c.tick.value === 0 || c.tick.value === -10 || c.tick.value === 35)) ? 'rgba(0,0,0,0)' : GRID, drawTicks: false},
        border: {display: false, dash: [4, 3]},
        title: {display: true, text: '2m Temp. (°C)', color: '#fff', font: {size: 10, family: FONT}, padding: {top: 4, bottom: 0}},
        afterFit: s => { s.width = 43; }
      },
      y1: {
        position: 'right', min: 0, max: 40,
        ticks: {stepSize: 1, autoSkip: false, color: '#fff', font: {size: 10, family: FONT}, padding: 7,
          callback: v => (precTicks.includes(v) ? String(v) : '')},
        grid: {drawOnChartArea: false, drawTicks: false},
        border: {display: false},
        title: {display: true, text: 'Neerslag (mm)', color: '#fff', font: {size: 10, family: FONT}, padding: {top: 4, bottom: 0}},
        afterFit: s => { s.width = 40; }
      }
    }
  },
  plugins: [framePlugin]
});

// ---- legend (HTML text) ----
const legendItems = memberNames.map((n, k) => ({name: n, color: memberColors[k], w: 2, col: k % 2, y: 39.3 + 15 * Math.floor(k / 2)}));
legendItems.push({name: 'Control', color: '#0a0aff', w: 2, col: 0, y: 265});
legendItems.push({name: 'Ens. mean', color: '#ffffff', w: 3, col: 1, y: 265});
legendItems.push({name: 'Oper', color: '#00d400', w: 2, col: 0, y: 281.5});
const lg = document.getElementById('legend');
legendItems.forEach(it => {
  const lx = it.col === 0 ? 0 : 54, lw = it.col === 0 ? 9 : 11, tx = it.col === 0 ? 10 : 66;
  const s = document.createElement('div');
  s.className = 'ls';
  s.style.cssText = `left:${lx}px;top:${Math.round(it.y - it.w / 2)}px;width:${lw}px;height:${it.w}px;background:${it.color};`;
  lg.appendChild(s);
  const t = document.createElement('div');
  t.className = 'lg';
  t.style.left = tx + 'px';
  t.style.top = Math.round(it.y - 6) + 'px';
  t.textContent = it.name;
  lg.appendChild(t);
});
</script>
</body></html>
